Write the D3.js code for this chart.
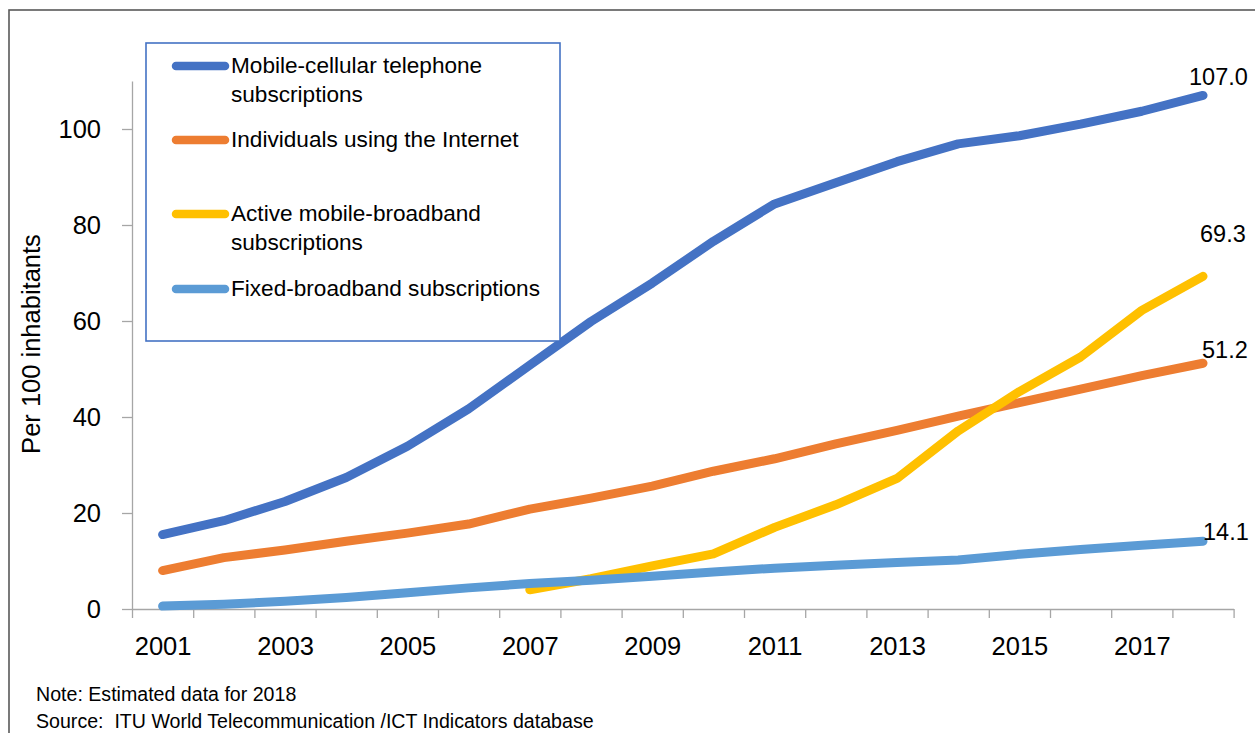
<!DOCTYPE html>
<html>
<head>
<meta charset="utf-8">
<title>ICT indicators per 100 inhabitants</title>
<script src="https://cdn.jsdelivr.net/npm/d3@7"></script>
<style>
body { margin: 0; background: #fff; }
text { font-family: "Liberation Sans", Arial, sans-serif; fill: #000; }
.axis path, .axis line { stroke: #a6a6a6; stroke-width: 1.3px; }
.axis text { font-size: 25.5px; fill: #000; }
path.series { fill: none; stroke-width: 9px; stroke-linejoin: round; stroke-linecap: round; }
.legend text { font-size: 22.6px; }
.dlabel { font-size: 23.5px; }
.note { font-size: 19.6px; white-space: pre; }
</style>
</head>
<body>
<script>
// values (per 100 inhabitants)
var years = d3.range(2001, 2019);
var yearLabels = [2001, 2003, 2005, 2007, 2009, 2011, 2013, 2015, 2017];
var yTicks = [0, 20, 40, 60, 80, 100];

var mobileCellular = [15.5, 18.4, 22.4, 27.4, 33.9, 41.7, 50.8, 59.9, 67.9, 76.6, 84.4, 88.8, 93.2, 96.9, 98.6, 101.0, 103.7, 107.0];
var internetUsers  = [8.0, 10.7, 12.3, 14.1, 15.8, 17.7, 20.8, 23.1, 25.6, 28.7, 31.3, 34.4, 37.2, 40.2, 43.0, 45.8, 48.6, 51.2];
var mobileBroadband = [null, null, null, null, null, null, 4.0, 6.3, 9.0, 11.5, 17.0, 21.7, 27.2, 37.1, 45.3, 52.5, 62.2, 69.3];
var fixedBroadband = [0.6, 1.0, 1.6, 2.4, 3.4, 4.4, 5.3, 6.0, 6.8, 7.7, 8.5, 9.1, 9.7, 10.2, 11.4, 12.4, 13.3, 14.1];

var seriesNames = [
  ["Mobile-cellular telephone", "subscriptions"],
  ["Individuals using the Internet"],
  ["Active mobile-broadband", "subscriptions"],
  ["Fixed-broadband subscriptions"]
];
var seriesValues = [mobileCellular, internetUsers, mobileBroadband, fixedBroadband];
var colors = ["#4472c4", "#ed7d31", "#ffc000", "#5b9bd5"];

var width = 1255, height = 733;

var svg = d3.select("body").append("svg")
  .attr("width", width)
  .attr("height", height);

// outer frame (only top and left edges are inside the picture)
svg.append("rect")
  .attr("x", 9).attr("y", 10)
  .attr("width", 1400).attr("height", 900)
  .attr("fill", "none")
  .attr("stroke", "#595959")
  .attr("stroke-width", 1.6);

var x = d3.scaleLinear().domain([2000.5, 2018.5]).range([132, 1233.6]);
var y = d3.scaleLinear().domain([0, 110]).range([609, 81]);

// y axis
var yAxis = svg.append("g")
  .attr("class", "axis")
  .attr("transform", "translate(132,0)")
  .call(d3.axisLeft(y).tickValues(yTicks).tickSize(10).tickSizeOuter(0).tickPadding(21));

// x axis: tick marks between the years, labels on odd years
var xAxis = svg.append("g")
  .attr("class", "axis")
  .attr("transform", "translate(0,609)")
  .call(d3.axisBottom(x).tickValues(d3.range(2000.5, 2019, 1)).tickSize(9).tickSizeOuter(0).tickFormat(""));

svg.append("g")
  .attr("class", "axis")
  .attr("transform", "translate(0,609)")
  .call(d3.axisBottom(x).tickValues(yearLabels).tickSize(0).tickPadding(28).tickFormat(d3.format("d")))
  .call(function(g) { g.select(".domain").remove(); });

// axis title
svg.append("text")
  .attr("transform", "translate(40,344) rotate(-90)")
  .attr("text-anchor", "middle")
  .style("font-size", "25.5px")
  .text("Per 100 inhabitants");

// lines
var line = d3.line()
  .defined(function(d) { return d != null; })
  .x(function(d, i) { return x(years[i]); })
  .y(function(d) { return y(d); });

svg.append("g")
  .selectAll("path")
  .data(seriesValues)
  .enter().append("path")
  .attr("class", "series")
  .attr("stroke", function(d, i) { return colors[i]; })
  .attr("d", line);

// end-of-line labels, offsets as placed in the original
var labelOffsets = [[-14, -10], [-1, -5], [-3, -34], [0, -1]];
svg.append("g")
  .selectAll("text")
  .data(seriesValues)
  .enter().append("text")
  .attr("class", "dlabel")
  .attr("x", function(d, i) { return x(years[years.length - 1]) + labelOffsets[i][0]; })
  .attr("y", function(d, i) { return y(d[d.length - 1]) + labelOffsets[i][1]; })
  .text(function(d) { return d3.format(".1f")(d[d.length - 1]); });

// legend
var legend = svg.append("g").attr("class", "legend");
legend.append("rect")
  .attr("x", 146).attr("y", 43)
  .attr("width", 414).attr("height", 298)
  .attr("fill", "#fff")
  .attr("stroke", "#4472c4")
  .attr("stroke-width", 1.6);

var rowY = [66, 140, 214, 289];
var item = legend.selectAll("g.item")
  .data(seriesNames)
  .enter().append("g")
  .attr("class", "item")
  .attr("transform", function(d, i) { return "translate(0," + rowY[i] + ")"; });

item.append("line")
  .attr("x1", 176).attr("x2", 225)
  .attr("stroke", function(d, i) { return colors[i]; })
  .attr("stroke-width", 8.5)
  .attr("stroke-linecap", "round");

item.selectAll("text")
  .data(function(d) { return d; })
  .enter().append("text")
  .attr("x", 231)
  .attr("y", function(d, j) { return 7 + j * 29; })
  .text(function(d) { return d; });

// footnotes
svg.append("text").attr("class", "note")
  .attr("x", 36).attr("y", 701)
  .text("Note: Estimated data for 2018");
svg.append("text").attr("class", "note")
  .attr("x", 36).attr("y", 728)
  .text("Source:  ITU World Telecommunication /ICT Indicators database");
</script>
</body>
</html>
